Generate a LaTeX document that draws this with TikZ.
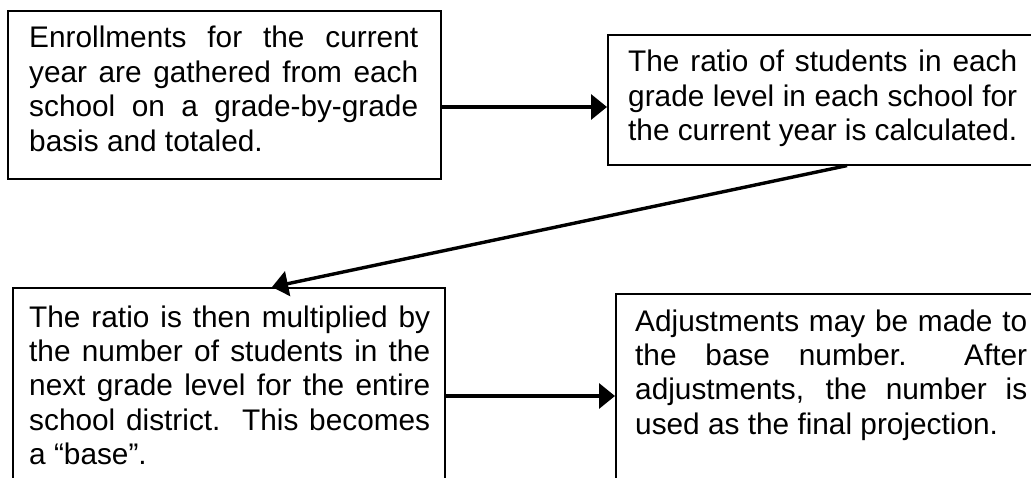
\documentclass[tikz,border=0pt]{standalone}
\usepackage{fontspec}
\setmainfont{Liberation Sans}
\usetikzlibrary{arrows.meta}
\newcommand\jl[1]{\makebox[\linewidth][s]{#1}\par}
\newcommand\boxtext[2]{\parbox[t]{#1}{\setlength{\parindent}{0pt}\fontsize{29.8pt}{34.5pt}\selectfont #2}}
\begin{document}
\begin{tikzpicture}[x=1pt,y=-1pt,
  box/.style={draw,line width=1.6pt,inner sep=0pt,anchor=north west},
  txt/.style={inner sep=0pt,anchor=base west},
  arr/.style={line width=3.4pt,-{Triangle[length=16pt,width=25pt]}}]
\useasboundingbox (0,0) rectangle (1031,478);
\clip (0,0) rectangle (1031,478);
\node[box,minimum width=433pt,minimum height=168pt] (b1) at (7,10) {};
\node[box,minimum width=450pt,minimum height=130pt] (b2) at (607,34) {};
\node[box,minimum width=432pt,minimum height=230pt] (b3) at (12,287) {};
\node[box,minimum width=450pt,minimum height=230pt] (b4) at (615,293) {};
\node[txt] (t1) at (29,48) {\boxtext{389pt}{\jl{Enrollments for the current}\jl{year are gathered from each}\jl{school on a grade-by-grade}basis and totaled.}};
\node[txt] (t2) at (628,72) {\boxtext{389pt}{\jl{The ratio of students in each}\jl{grade level in each school for}the current year is calculated.}};
\node[txt] (t3) at (29,327) {\boxtext{401pt}{\jl{The ratio is then multiplied by}\jl{the number of students in the}\jl{next grade level for the entire}\jl{school district.\ \ This becomes}a “base”.}};
\node[txt] (t4) at (635,331) {\boxtext{392pt}{\jl{Adjustments may be made to}\jl{the base number.\ \ After}\jl{adjustments, the number is}used as the final projection.}};
\coordinate (y1) at (0,107);
\draw[arr] (b1.east |- y1) -- (b2.west |- y1);
\coordinate (s2) at (847,0);
\coordinate (e2) at (272,0);
\draw[arr] (b2.south -| s2) -- (b3.north -| e2);
\coordinate (y3) at (0,396);
\draw[arr] (b3.east |- y3) -- (b4.west |- y3);
\end{tikzpicture}
\end{document}
